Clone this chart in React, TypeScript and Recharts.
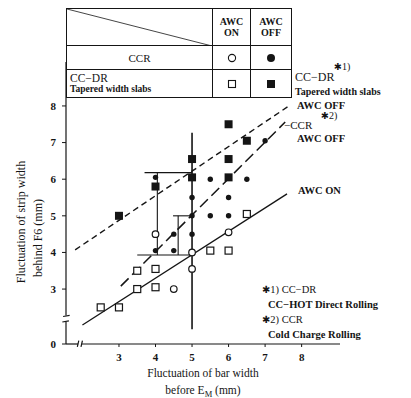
import React from "react";
import { ComposedChart, XAxis, YAxis, Scatter, Line, ReferenceLine } from "recharts";

// CCR, AWC ON (open circles)
const ccrOn = [
  { x: 4, y: 4.5 },
  { x: 5, y: 4.0 },
  { x: 5, y: 3.55 },
  { x: 4.5, y: 3.0 },
  { x: 6, y: 4.55 },
];
// CCR, AWC OFF (filled circles)
const ccrOff = [
  { x: 4, y: 6.05 },
  { x: 4, y: 4.05 },
  { x: 4.5, y: 4.5 },
  { x: 4.5, y: 4.05 },
  { x: 5, y: 5.5 },
  { x: 5, y: 5.0 },
  { x: 5, y: 4.5 },
  { x: 5.5, y: 6.0 },
  { x: 5.5, y: 5.0 },
  { x: 6, y: 5.5 },
  { x: 6, y: 5.0 },
  { x: 6.5, y: 6.0 },
  { x: 7, y: 7.05 },
];
// CC-DR tapered width slabs, AWC ON (open squares)
const drOn = [
  { x: 2.5, y: 2.5 },
  { x: 3, y: 2.5 },
  { x: 3.5, y: 3.0 },
  { x: 4, y: 3.05 },
  { x: 3.5, y: 3.5 },
  { x: 4, y: 3.55 },
  { x: 5.5, y: 4.05 },
  { x: 6, y: 4.05 },
  { x: 6.5, y: 5.05 },
];
// CC-DR tapered width slabs, AWC OFF (filled squares)
const drOff = [
  { x: 3, y: 5.0 },
  { x: 4, y: 5.8 },
  { x: 5, y: 6.55 },
  { x: 5, y: 6.05 },
  { x: 6, y: 7.5 },
  { x: 6.5, y: 7.05 },
  { x: 6, y: 6.55 },
  { x: 6, y: 6.05 },
];

// trend lines
const awcOnLine = [
  { x: 2.0, y: 2.02 },
  { x: 7.6, y: 5.6 },
];
const ccrOffLine = [
  { x: 3.05, y: 3.08 },
  { x: 7.55, y: 7.56 },
];
const drOffLine = [
  { x: 1.8, y: 4.07 },
  { x: 7.65, y: 8.0 },
];

// range brackets drawn over the scatter
const rangeBars = [
  [{ x: 4.05, y: 3.93 }, { x: 4.05, y: 6.18 }],
  [{ x: 3.7, y: 6.18 }, { x: 5, y: 6.18 }],
  [{ x: 3.5, y: 3.93 }, { x: 5, y: 3.93 }],
  [{ x: 4.62, y: 3.93 }, { x: 4.62, y: 5.0 }],
  [{ x: 4.48, y: 5.0 }, { x: 5, y: 5.0 }],
  [{ x: 5, y: 1.9 }, { x: 5, y: 7.27 }],
];

// broken axes
const axisSegments = [
  [{ x: 1.55, y: 1.5 }, { x: 1.55, y: 2.1 }],
  [{ x: 1.55, y: 2.28 }, { x: 1.55, y: 9.2 }],
  [{ x: 1.45, y: 2.1 }, { x: 1.63, y: 2.13 }],
  [{ x: 1.47, y: 2.25 }, { x: 1.65, y: 2.28 }],
  [{ x: 1.55, y: 1.5 }, { x: 1.88, y: 1.5 }],
  [{ x: 1.98, y: 1.5 }, { x: 9.05, y: 1.5 }],
  [{ x: 1.86, y: 1.42 }, { x: 1.9, y: 1.59 }],
  [{ x: 1.96, y: 1.42 }, { x: 2.0, y: 1.59 }],
];

const xTicks = [3, 4, 5, 6, 7, 8];
const yTicks = [1.5, 3, 4, 5, 6, 7, 8];

const FONT = "'Liberation Serif', 'DejaVu Serif', serif";
const STAR = "'DejaVu Sans', sans-serif";
const INK = "#151515";

const OpenCircle = (p: any) => (
  <circle cx={p.cx} cy={p.cy} r={3.3} fill="#fff" stroke={INK} strokeWidth={1.2} />
);
const FilledCircle = (p: any) => <circle cx={p.cx} cy={p.cy} r={2.7} fill={INK} />;
const OpenSquare = (p: any) => (
  <rect x={p.cx - 3.5} y={p.cy - 3.5} width={7} height={7} fill="#fff" stroke={INK} strokeWidth={1.2} />
);
const FilledSquare = (p: any) => (
  <rect x={p.cx - 4} y={p.cy - 4} width={8} height={8} fill={INK} />
);

function Note({ left, top, size = 11, bold = false, children }: any) {
  return (
    <div
      style={{
        position: "absolute",
        left,
        top: top - size / 2 - 1,
        fontSize: size,
        lineHeight: 1.1,
        fontFamily: FONT,
        fontWeight: bold ? 700 : 400,
        color: INK,
        whiteSpace: "nowrap",
      }}
    >
      {children}
    </div>
  );
}

const Star = () => <span style={{ fontFamily: STAR, fontSize: "0.95em" }}>✱</span>;

const cell: React.CSSProperties = {
  border: `1px solid ${INK}`,
  padding: 0,
  textAlign: "center",
  fontFamily: FONT,
  color: INK,
};

function LegendTable() {
  return (
    <div style={{ position: "absolute", left: 66, top: 8 }}>
      <table style={{ borderCollapse: "collapse", tableLayout: "fixed", width: 222 }}>
        <tbody>
          <tr style={{ height: 37 }}>
            <td style={{ ...cell, width: 145, position: "relative" }}>
              <svg width={145} height={37} style={{ position: "absolute", left: 0, top: 0 }}>
                <line x1={0} y1={0} x2={145} y2={37} stroke={INK} strokeWidth={0.8} />
              </svg>
            </td>
            <td style={{ ...cell, width: 37, fontSize: 10, fontWeight: 700, lineHeight: 1.15 }}>
              AWC<br />ON
            </td>
            <td style={{ ...cell, width: 40, fontSize: 10, fontWeight: 700, lineHeight: 1.15 }}>
              AWC<br />OFF
            </td>
          </tr>
          <tr style={{ height: 24 }}>
            <td style={{ ...cell, fontSize: 11 }}>CCR</td>
            <td style={cell}>
              <svg width={10} height={10}><circle cx={5} cy={5} r={3.6} fill="#fff" stroke={INK} strokeWidth={1.1} /></svg>
            </td>
            <td style={cell}>
              <svg width={10} height={10}><circle cx={5} cy={5} r={4} fill={INK} /></svg>
            </td>
          </tr>
          <tr style={{ height: 28 }}>
            <td style={{ ...cell, textAlign: "left", paddingLeft: 3, lineHeight: 1.05 }}>
              <div style={{ fontSize: 11.5 }}>CC−DR</div>
              <div style={{ fontSize: 9.5, fontWeight: 700 }}>Tapered width slabs</div>
            </td>
            <td style={cell}>
              <svg width={10} height={10}><rect x={1.5} y={1.5} width={7} height={7} fill="#fff" stroke={INK} strokeWidth={1.1} /></svg>
            </td>
            <td style={cell}>
              <svg width={10} height={10}><rect x={1} y={1} width={8} height={8} fill={INK} /></svg>
            </td>
          </tr>
        </tbody>
      </table>
    </div>
  );
}

export default function App() {
  return (
    <div style={{ position: "absolute", left: 0, top: 0, width: 411, height: 398, background: "#fff" }}>
      <ComposedChart width={411} height={398} margin={{ top: 62, right: 71, bottom: 30, left: 40 }}>
        <XAxis
          type="number"
          dataKey="x"
          domain={[1.55, 9.05]}
          ticks={xTicks}
          axisLine={false}
          tickSize={3}
          tickMargin={6}
          height={24}
          stroke={INK}
          tick={{ fontSize: 11, fontFamily: FONT, fontWeight: 700, fill: INK }}
          allowDataOverflow
          label={{
            content: () => (
              <text fontFamily={FONT} fontSize={11.5} fill={INK} textAnchor="middle">
                <tspan x={203} y={377}>Fluctuation of bar width</tspan>
                <tspan x={203} y={394}>
                  before E<tspan dy={3} fontSize={8.5}>M</tspan>
                  <tspan dy={-3}> (mm)</tspan>
                </tspan>
              </text>
            ),
          }}
        />
        <YAxis
          type="number"
          dataKey="y"
          domain={[1.5, 9.2]}
          ticks={yTicks}
          tickFormatter={(v: number) => (v === 1.5 ? "0" : String(v))}
          axisLine={false}
          tickSize={4}
          tickMargin={6}
          width={26}
          stroke={INK}
          tick={{ fontSize: 11, fontFamily: FONT, fontWeight: 700, fill: INK }}
          allowDataOverflow
          label={{
            content: () => (
              <g fontFamily={FONT} fontSize={12} fill={INK}>
                <text transform="translate(25,222) rotate(-90)" textAnchor="middle">
                  Fluctuation of strip width
                </text>
                <text transform="translate(42,238) rotate(-90)" textAnchor="middle">
                  behind F6 (mm)
                </text>
              </g>
            ),
          }}
        />
        {axisSegments.map((s, i) => (
          <ReferenceLine key={`ax${i}`} segment={s} stroke={INK} strokeWidth={1.2} ifOverflow="visible" />
        ))}
        {rangeBars.map((s, i) => (
          <ReferenceLine
            key={`rb${i}`}
            segment={s}
            stroke={INK}
            strokeWidth={i === 5 ? 1.6 : 1.1}
            ifOverflow="visible"
          />
        ))}
        <Line data={awcOnLine} dataKey="y" type="linear" stroke={INK} strokeWidth={1.3} dot={false} isAnimationActive={false} />
        <Line data={ccrOffLine} dataKey="y" type="linear" stroke={INK} strokeWidth={1.5} strokeDasharray="11 5" dot={false} isAnimationActive={false} />
        <Line data={drOffLine} dataKey="y" type="linear" stroke={INK} strokeWidth={1.4} strokeDasharray="6 4" dot={false} isAnimationActive={false} />
        <Scatter data={drOn} dataKey="y" shape={OpenSquare} isAnimationActive={false} />
        <Scatter data={ccrOn} dataKey="y" shape={OpenCircle} isAnimationActive={false} />
        <Scatter data={drOff} dataKey="y" shape={FilledSquare} isAnimationActive={false} />
        <Scatter data={ccrOff} dataKey="y" shape={FilledCircle} isAnimationActive={false} />
      </ComposedChart>

      <LegendTable />

      <Note left={295} top={78} size={12}>CC−DR</Note>
      <Note left={334} top={67} size={10}><Star />1)</Note>
      <Note left={295} top={92} size={10} bold>Tapered width slabs</Note>
      <Note left={297} top={106} size={10.5} bold>AWC OFF</Note>
      <Note left={284} top={125} size={11}>−CCR</Note>
      <Note left={321} top={116} size={10}><Star />2)</Note>
      <Note left={297} top={139} size={10.5} bold>AWC OFF</Note>
      <Note left={298} top={191} size={10.5} bold>AWC ON</Note>

      <Note left={262} top={290} size={10.5}><Star />1) CC−DR</Note>
      <Note left={268} top={305} size={10.5} bold>CC−HOT Direct Rolling</Note>
      <Note left={262} top={320} size={10.5}><Star />2) CCR</Note>
      <Note left={268} top={335} size={10.5} bold>Cold Charge Rolling</Note>
    </div>
  );
}
